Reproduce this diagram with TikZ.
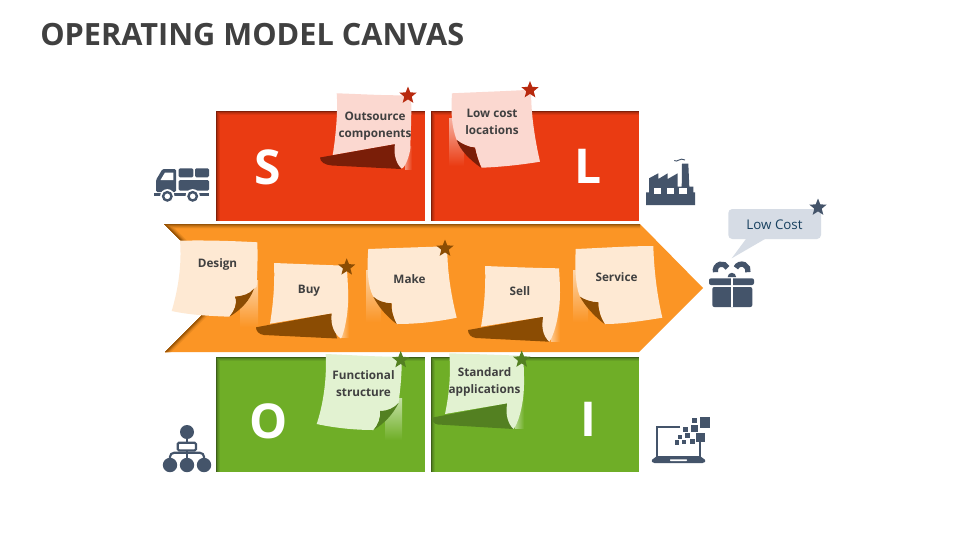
\documentclass[tikz,border=0pt]{standalone}
\usepackage{fontspec}
\setmainfont{Open Sans}
\usetikzlibrary{shapes.geometric}
\definecolor{iconc}{HTML}{44546A}
\definecolor{redb}{HTML}{EA3B12}
\definecolor{redd}{HTML}{7A1E08}
\definecolor{reds}{HTML}{B8290E}
\definecolor{redn}{HTML}{FBD8D0}
\definecolor{orab}{HTML}{FB9525}
\definecolor{orad}{HTML}{8B4C03}
\definecolor{oran}{HTML}{FEE9D3}
\definecolor{greb}{HTML}{6FAE27}
\definecolor{gred}{HTML}{538021}
\definecolor{gren}{HTML}{E2F2D1}
\definecolor{txt}{HTML}{404040}
\definecolor{callc}{HTML}{D6DCE5}
\definecolor{callt}{HTML}{17405F}
\tikzset{
  icon/.style={fill=iconc,draw=none},
  hole/.style={fill=white,draw=none},
  starnode/.style={star,star points=5,star point ratio=2.3,minimum size=13.5pt,inner sep=0pt,draw=none},
  notetext/.style={font=\bfseries\fontsize{8.8pt}{12.8pt}\selectfont,text=txt,align=center,inner sep=0pt},
  letter/.style={font=\bfseries\fontsize{36pt}{36pt}\selectfont,text=white,inner sep=0pt}
}
\newcommand{\innershadow}[4]{%
  \begin{scope}
    \clip #1;
    \foreach \w/\p in {6.5/15,5/32,3.6/52,2.2/75,1.0/95}{
      \draw[line width=\w pt,color=#3!\p!#4,line join=miter] #2;
    }
  \end{scope}}
\begin{document}
\begin{tikzpicture}[x=0.75pt,y=-0.75pt]
\useasboundingbox (0,0) rectangle (960,540);
\fill[white] (0,0) rectangle (960,540);
\node[anchor=west,inner sep=0pt,text=txt,font=\bfseries\fontsize{23pt}{26pt}\selectfont] (title) at (40,34.5) {OPERATING MODEL CANVAS};

% panels
\fill[redb] (216,111) rectangle (425,221);
\innershadow{(216,111) rectangle (425,221)}{(216,221)--(216,111)--(425,111)}{redd}{redb}
\fill[redb] (431,111) rectangle (639,221);
\innershadow{(431,111) rectangle (639,221)}{(431,221)--(431,111)--(639,111)}{redd}{redb}
\fill[greb] (216,357) rectangle (425,472);
\innershadow{(216,357) rectangle (425,472)}{(216,472)--(216,357)--(425,357)}{gred!70!black}{greb}
\fill[greb] (431,357) rectangle (639,472);
\innershadow{(431,357) rectangle (639,472)}{(431,472)--(431,357)--(639,357)}{gred!70!black}{greb}
\fill[orab] (164,224)--(640,224)--(703,288)--(639,352)--(165,352)--(229,288)--cycle;
\innershadow{(164,224)--(640,224)--(703,288)--(639,352)--(165,352)--(229,288)--cycle}{(165,352)--(229,288)--(164,224)--(640,224)}{orad}{orab}

% light strips behind the notes
\shade[top color=redn!75!redb,bottom color=redb] (449,118) rectangle (464,166);
\shade[left color=redn!55!redb,right color=redb] (405,146) rectangle (412,169);
\shade[top color=oran!75!orab,bottom color=orab] (240,280) rectangle (258,327);
\shade[top color=oran!75!orab,bottom color=orab] (366,270) rectangle (381,322);
\shade[top color=oran!75!orab,bottom color=orab] (573,270) rectangle (588,322);
\shade[left color=oran!60!orab,right color=orab] (341,290) rectangle (349,337);
\shade[left color=oran!60!orab,right color=orab] (551,296) rectangle (560,341);
\shade[top color=gren!75!greb,bottom color=greb] (385,398) rectangle (402,440);
\shade[left color=gren!60!greb,right color=greb] (515,395) rectangle (524,428);

% Outsource components
\fill[redd] (320,157.5)--(395,144)--(401,169)--(332,165.5) .. controls (325,165) and (320,162) .. (320,157.5)--cycle;
\fill[redn] (336.7,93.3) .. controls (360,94) and (390,96) .. (411,95) .. controls (412,120) and (410,140) .. (410.5,147) .. controls (410,155) and (405,168) .. (401.7,168.5) .. controls (397,165) and (393,155) .. (395,144)--(332.7,155) .. controls (336,135) and (338,110) .. (336.7,93.3)--cycle;
\node[starnode,fill=reds] (star1) at (408,95.5) {};
\node[notetext] (t1) at (375,126) {Outsource\\components};

% Low cost locations
\fill[redn] (452,93.3) .. controls (480,92) and (510,91) .. (531,89.7) .. controls (531,115) and (535,140) .. (540,161.7) .. controls (520,165) and (500,167) .. (481.7,167.7) .. controls (478,160) and (476,153) .. (475,147.7) .. controls (468,147) and (462,144) .. (456.7,140) .. controls (451,125) and (451,110) .. (452,93.3)--cycle;
\fill[redd] (456.7,140) .. controls (462,144) and (468,147) .. (475,147.7) .. controls (476,153) and (478,160) .. (481,167.7) .. controls (470,160) and (460,150) .. (456.7,140)--cycle;
\node[starnode,fill=reds] (star2) at (530,90) {};
\node[notetext] (t2) at (492,122) {Low cost\\locations};

% Design
\fill[oran] (180,240.7) .. controls (205,240) and (235,241) .. (257.3,242.3) .. controls (258,260) and (257,275) .. (256.7,286.7) -- (254,288.5) .. controls (250,294) and (243,296) .. (235,296.7) .. controls (238,304) and (234,311) .. (229.5,316.7) .. controls (210,316) and (190,315) .. (171.7,311) .. controls (178,290) and (182,265) .. (180,240.7)--cycle;
\fill[orad] (254,288.5) .. controls (250,294) and (243,296) .. (235,296.7) .. controls (238,304) and (234,311) .. (229.5,316.7) .. controls (242,309) and (250,300) .. (254,288.5)--cycle;
\node[notetext] (t3) at (217.5,264.5) {Design};

% Buy
\fill[orad] (256,327.3)--(331.7,313.3)--(337,338.5)--(264,335) .. controls (259,334.5) and (256,331) .. (256,327.3)--cycle;
\fill[oran] (274,263) .. controls (300,264) and (325,265) .. (346.7,265.7) .. controls (348,285) and (349,300) .. (347,315) .. controls (345,328) and (343,335) .. (341,338.5) .. controls (335,335) and (330,325) .. (331.7,313.3)--(270,323.7) .. controls (273,305) and (275,285) .. (274,263)--cycle;
\node[starnode,fill=orad] (star3) at (346.7,267.3) {};
\node[notetext] (t4) at (309,290.3) {Buy};

% Make
\fill[oran] (368.3,249) .. controls (395,248) and (425,247) .. (447.3,246.3) .. controls (447,270) and (451,295) .. (456.7,317.7) .. controls (436,322) and (416,324) .. (396.7,324) .. controls (393,317) and (391,310) .. (391.7,303.3) .. controls (384,303) and (378,301) .. (373.3,296.7) .. controls (367,285) and (367,265) .. (368.3,249)--cycle;
\fill[orad] (373.3,296.7) .. controls (378,301) and (384,303) .. (391.7,303.3) .. controls (391,310) and (393,317) .. (396.7,324) .. controls (386,316) and (378,306) .. (373.3,296.7)--cycle;
\node[starnode,fill=orad] (star4) at (445,248.5) {};
\node[notetext] (t5) at (409.5,279) {Make};

% Sell
\fill[orad] (468,330)--(543.3,316.7)--(549.3,341.7)--(476,338) .. controls (471,337.5) and (468,334) .. (468,330)--cycle;
\fill[oran] (485,266) .. controls (510,267) and (535,268) .. (559,268.3) .. controls (560,285) and (561,300) .. (558,315) .. controls (556,328) and (552,338) .. (549.3,341.7) .. controls (543,336) and (541,327) .. (543.3,316.7)--(481,326.7) .. controls (484,310) and (486,285) .. (485,266)--cycle;
\node[notetext] (t6) at (520,291) {Sell};

% Service
\fill[oran] (575.7,249) .. controls (600,248) and (630,246) .. (653.3,246) .. controls (654,270) and (657,295) .. (662.3,317.7) .. controls (642,321) and (622,324) .. (605,324) .. controls (601,318) and (598,310) .. (598.3,302.3) .. controls (591,302) and (585,300) .. (580,296.7) .. controls (575,285) and (575,265) .. (575.7,249)--cycle;
\fill[orad] (580,296.7) .. controls (585,300) and (591,302) .. (598.3,302.3) .. controls (598,310) and (601,318) .. (604.5,324) .. controls (594,316) and (585,306) .. (580,296.7)--cycle;
\node[notetext] (t7) at (616.5,277) {Service};

% Functional structure
\fill[gren] (325.7,354) .. controls (350,355) and (380,357) .. (401.7,356.7) .. controls (402,375) and (400,392) .. (398.5,403) .. controls (394,408) and (388,411) .. (380,411) .. controls (381,418) and (378,425) .. (373.5,430) .. controls (355,430) and (335,428) .. (316.7,424) .. controls (323,405) and (327,380) .. (325.7,354)--cycle;
\fill[gred] (398.5,403) .. controls (394,408) and (388,411) .. (380,411) .. controls (381,418) and (378,425) .. (373.5,430) .. controls (385,423) and (393,414) .. (398.5,403)--cycle;
\node[starnode,fill=gred] (star5) at (400.7,360) {};
\node[notetext] (t8) at (363.5,383.5) {Functional\\structure};

% Standard applications
\fill[gred] (431.7,417.7)--(507.3,403.3)--(513.5,429)--(438,424.5) .. controls (434,424) and (431.7,421) .. (431.7,417.7)--cycle;
\fill[gren] (449.3,353.3) .. controls (475,354) and (500,355) .. (523.3,355.7) .. controls (524,375) and (525,390) .. (522,405) .. controls (520,417) and (516,426) .. (513.5,429) .. controls (508,424) and (505,414) .. (507.3,403.3)--(445,414) .. controls (449,395) and (451,375) .. (449.3,353.3)--cycle;
\node[starnode,fill=gred] (star6) at (521.7,359.5) {};
\node[notetext] (t9) at (484.5,381.5) {Standard\\applications};

% Letters
\node[letter] (S) at (267.5,167) {S};
\node[letter] (L) at (588.5,166) {L};
\node[letter] (O) at (269,421) {O};
\node[letter] (I) at (588,419.5) {I};

% Callout
\fill[callc,rounded corners=3pt] (728.3,209) rectangle (821,239);
\fill[callc] (746.7,238)--(766.7,238)--(731.7,258.3)--cycle;
\node[inner sep=0pt,text=callt,font=\fontsize{10pt}{12pt}\selectfont] (low) at (774.5,225) {Low Cost};
\node[starnode,fill=iconc] (star7) at (818,207.5) {};

% Truck icon
\fill[icon,rounded corners=1pt] (162.5,169)--(176,169)--(176,192)--(156,192)--(156,180)--cycle;
\fill[hole] (165,172.5)--(173.3,172.5)--(173.3,180)--(160.5,180)--cycle;
\fill[icon,rounded corners=1pt] (178.7,168.3) rectangle (193.3,177.3);
\fill[icon,rounded corners=1pt] (195,168.3) rectangle (209,177.3);
\fill[icon,rounded corners=1pt] (178.7,180) rectangle (209,190.7);
\fill[icon] (154,193) rectangle (209,196.3);
\fill[hole] (167.3,196.3) circle[radius=7.2*0.75pt];
\fill[hole] (192.7,196.3) circle[radius=7.2*0.75pt];
\draw[iconc,line width=1.8pt] (167.3,196.3) circle[radius=4.2*0.75pt];
\draw[iconc,line width=1.8pt] (192.7,196.3) circle[radius=4.2*0.75pt];

% Factory icon
\fill[icon] (646,205)--(646,192.3)--(649,192.3)--(649,178.3)--(658.3,173.3)--(658.3,179)--(667.7,173.3)--(667.7,179)--(677.7,173.3)--(677.7,186.7)--(681.7,186.7)--(682,163.5)--(688.3,163.5)--(689.3,186.7)--(693.3,186.7)--(693.3,192.3)--(695,192.3)--(695,205)--cycle;
\fill[hole] (654,188.3) rectangle (661,194.3);
\fill[hole] (666.7,188.3) rectangle (673.7,194.3);
\fill[hole] (679.3,188.3) rectangle (686.7,194.3);
\draw[iconc,line width=0.7pt] (674.3,160.5) .. controls (677,163) and (680,157) .. (685,160);

% Gift icon
\draw[iconc,line width=4pt] (721.7,270.5) ++(195:6.4*0.75pt) arc[start angle=195,end angle=25,radius=6.4*0.75pt];
\draw[iconc,line width=4pt] (741.7,270.5) ++(155:6.4*0.75pt) arc[start angle=155,end angle=-15,radius=6.4*0.75pt];
\fill[icon] (727.7,277)  arc[start angle=180,end angle=0,radius=4.2*0.75pt] -- cycle;
\fill[icon,rounded corners=1.5pt] (709,278.3) rectangle (754,285);
\fill[icon,rounded corners=1.5pt] (712.3,287) rectangle (752.3,307);
\fill[hole] (730.8,278) rectangle (733.2,307);

% Laptop icon
\draw[iconc,line width=1.8pt] (680,426.8)--(657,426.8)--(657,457);
\draw[iconc,line width=1.8pt] (700,441)--(700,457);
\fill[icon,rounded corners=1pt] (657,456)--(700,456)--(706,460.5)--(704,463)--(653,463)--(651,460.5)--cycle;
\fill[hole,rounded corners=0.5pt] (670,459.3) rectangle (687,461);
\foreach \a/\b/\c/\d in {700/417/710/427.7,691.7/417.7/697/423,691/425/698.3/432.3,682.7/426.7/688.3/432.3,696/433/705/442,685/432.7/690/437.7,677.7/435/682/439,690/438.7/695/444,681.7/440/686/444,675/440/679/445}{
  \fill[icon] (\a,\b) rectangle (\c,\d);
}

% Organisation icon
\fill[icon] (187,432) circle[radius=7*0.75pt];
\fill[icon] (170,465) circle[radius=7.2*0.75pt];
\fill[icon] (187,465) circle[radius=7.2*0.75pt];
\fill[icon] (204,465) circle[radius=7.2*0.75pt];
\draw[iconc,line width=1.6pt,rounded corners=1pt] (177.7,442.7) rectangle (196,450.5);
\draw[iconc,line width=1.6pt] (187,437)--(187,443);
\draw[iconc,line width=1.6pt] (187,450)--(187,460);
\draw[iconc,line width=1.6pt,rounded corners=3pt] (170,460)--(170,452.8)--(204,452.8)--(204,460);
\end{tikzpicture}
\end{document}
